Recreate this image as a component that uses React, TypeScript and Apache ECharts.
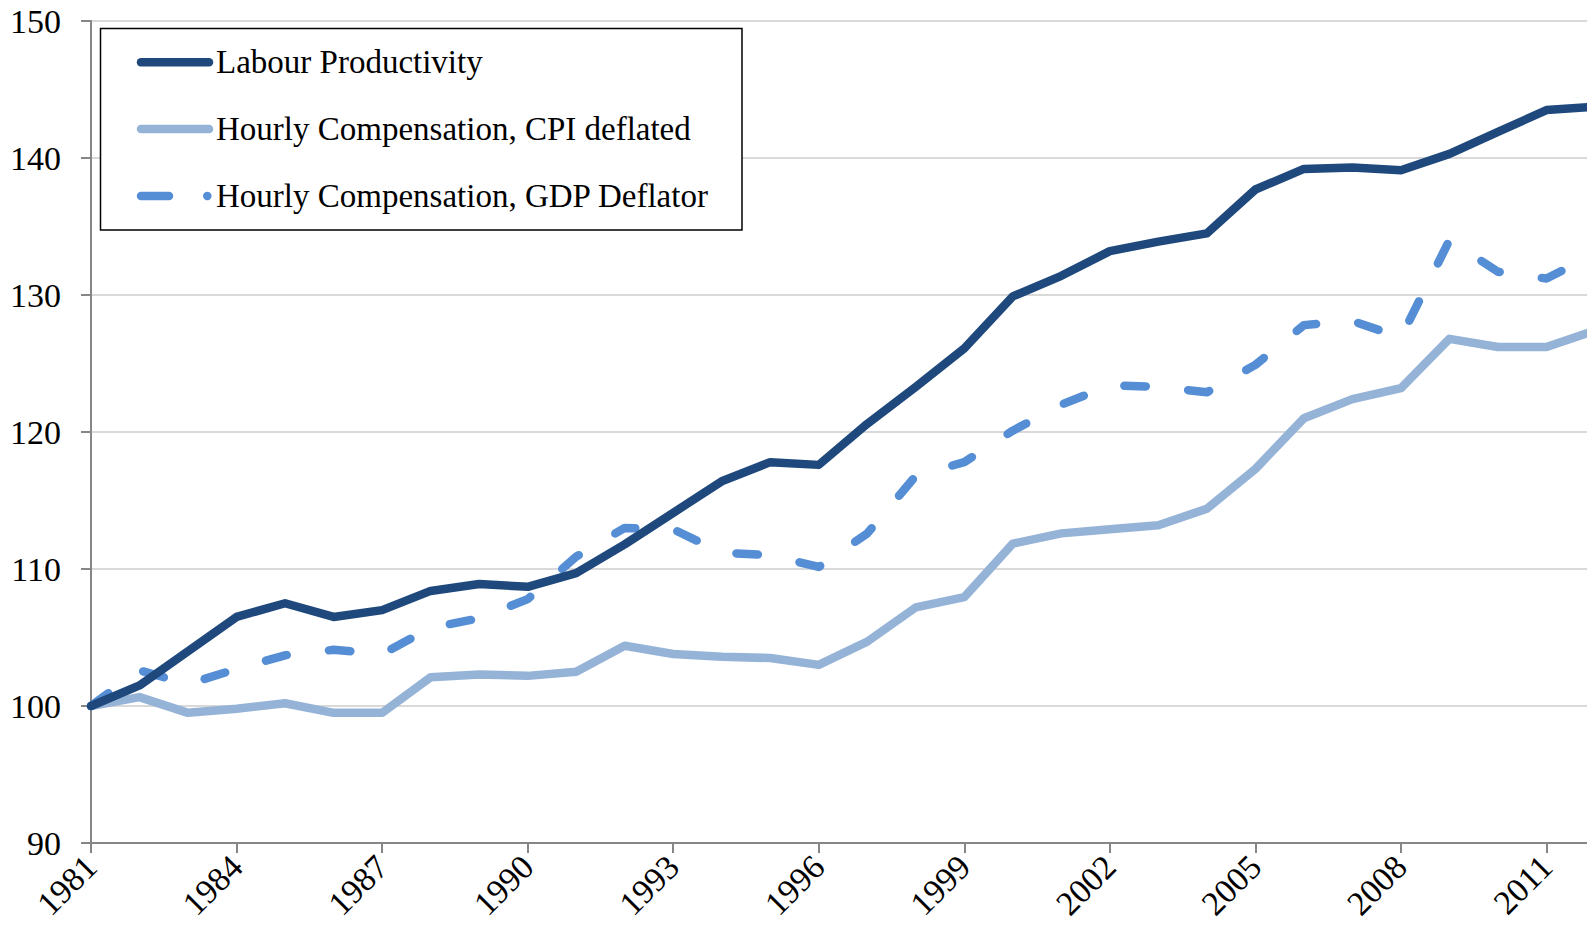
import React, { useEffect, useRef } from "react";
import * as echarts from "echarts";

const years = [
  "1981", "1982", "1983", "1984", "1985", "1986", "1987", "1988", "1989", "1990",
  "1991", "1992", "1993", "1994", "1995", "1996", "1997", "1998", "1999", "2000",
  "2001", "2002", "2003", "2004", "2005", "2006", "2007", "2008", "2009", "2010",
  "2011", "2012",
];

const labourProductivity = [
  100, 101.5, 104.0, 106.5, 107.5, 106.5, 107.0, 108.4, 108.9, 108.7,
  109.7, 111.8, 114.1, 116.4, 117.8, 117.6, 120.6, 123.3, 126.1, 129.9,
  131.4, 133.2, 133.9, 134.5, 137.7, 139.2, 139.3, 139.1, 140.3, 141.9,
  143.5, 143.75,
];

const compCPI = [
  100, 100.65, 99.5, 99.8, 100.2, 99.5, 99.5, 102.1, 102.3, 102.2,
  102.5, 104.4, 103.8, 103.6, 103.5, 103.0, 104.7, 107.2, 107.95, 111.85,
  112.6, 112.9, 113.2, 114.4, 117.3, 121.0, 122.4, 123.2, 126.8, 126.2,
  126.2, 127.4,
];

const compGDP = [
  100, 102.6, 101.6, 102.7, 103.7, 104.1, 103.8, 105.7, 106.4, 107.8,
  110.9, 113.0, 112.9, 111.2, 111.0, 110.15, 112.6, 116.8, 117.8, 120.1,
  122.0, 123.4, 123.3, 122.9, 124.9, 127.8, 128.1, 126.9, 134.0, 131.7,
  131.2, 133.0,
];

const seriesNames = [
  "Labour Productivity",
  "Hourly Compensation, CPI deflated",
  "Hourly Compensation, GDP Deflator",
];

const COLORS = ["#1F497D", "#95B3D7", "#558ED5"];
const FONT = "'Liberation Serif', 'Times New Roman', serif";
const LW = 8.5;

export default function App() {
  const ref = useRef<HTMLDivElement>(null);

  useEffect(() => {
    if (!ref.current) return;
    const chart = echarts.init(ref.current, undefined, { renderer: "svg" });

    const legendY = [62.3, 129, 196];
    const legendGraphics: any[] = [
      {
        type: "rect",
        z: 100,
        shape: { x: 100.5, y: 28.5, width: 641.5, height: 201.5 },
        style: { fill: "#ffffff", stroke: "#000000", lineWidth: 1.5 },
      },
      {
        type: "line",
        z: 101,
        shape: { x1: 141, y1: legendY[0], x2: 209, y2: legendY[0] },
        style: { stroke: COLORS[0], lineWidth: LW, lineCap: "round" },
      },
      {
        type: "line",
        z: 101,
        shape: { x1: 141, y1: legendY[1], x2: 209, y2: legendY[1] },
        style: { stroke: COLORS[1], lineWidth: LW, lineCap: "round" },
      },
      {
        type: "line",
        z: 101,
        shape: { x1: 141, y1: legendY[2], x2: 169, y2: legendY[2] },
        style: { stroke: COLORS[2], lineWidth: LW, lineCap: "round" },
      },
      {
        type: "circle",
        z: 101,
        shape: { cx: 207.3, cy: legendY[2], r: LW / 2 },
        style: { fill: COLORS[2] },
      },
    ];
    seriesNames.forEach((name, i) => {
      legendGraphics.push({
        type: "text",
        z: 101,
        x: 216,
        y: legendY[i],
        style: {
          text: name,
          fill: "#000000",
          font: `33px ${FONT}`,
          verticalAlign: "middle",
          align: "left",
        },
      });
    });

    chart.setOption({
      animation: false,
      backgroundColor: "#ffffff",
      grid: {
        left: 91,
        top: 21,
        width: 1504,
        height: 822,
        containLabel: false,
        outerBoundsMode: "none",
      },
      xAxis: {
        type: "category",
        data: years,
        boundaryGap: false,
        axisLine: { show: true, lineStyle: { color: "#868686", width: 2 } },
        axisTick: { show: true, interval: 2, length: 10, lineStyle: { color: "#868686", width: 2 } },
        axisLabel: {
          interval: 2,
          rotate: 45,
          margin: 18,
          color: "#000000",
          fontSize: 34,
          fontFamily: FONT,
        },
        splitLine: { show: false },
      },
      yAxis: {
        type: "value",
        min: 90,
        max: 150,
        interval: 10,
        axisLine: { show: true, lineStyle: { color: "#868686", width: 2 } },
        axisTick: { show: true, length: 10, lineStyle: { color: "#868686", width: 2 } },
        axisLabel: { margin: 30, color: "#000000", fontSize: 34, fontFamily: FONT },
        splitLine: { show: true, lineStyle: { color: "#d9d9d9", width: 2 } },
      },
      series: [
        {
          name: seriesNames[0],
          type: "line",
          data: labourProductivity,
          showSymbol: false,
          z: 4,
          lineStyle: { color: COLORS[0], width: LW, cap: "round", join: "round" },
        },
        {
          name: seriesNames[1],
          type: "line",
          data: compCPI,
          showSymbol: false,
          z: 2,
          lineStyle: { color: COLORS[1], width: LW, cap: "round", join: "round" },
        },
        {
          name: seriesNames[2],
          type: "line",
          data: compGDP,
          showSymbol: false,
          z: 3,
          lineStyle: {
            color: COLORS[2],
            width: LW,
            type: [21.5, 42.5],
            cap: "round",
            join: "round",
          },
        },
      ],
      graphic: legendGraphics,
    });

    return () => chart.dispose();
  }, []);

  return (
    <div
      ref={ref}
      style={{ position: "fixed", left: 0, top: 0, width: 1587, height: 936, background: "#fff" }}
    />
  );
}
